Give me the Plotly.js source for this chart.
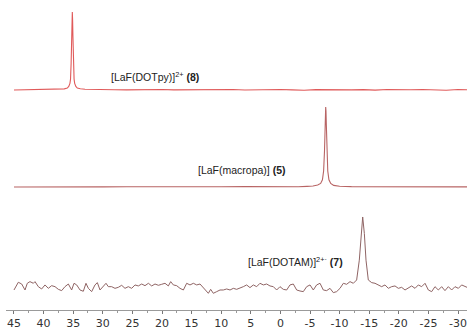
<!DOCTYPE html>
<html><head><meta charset="utf-8">
<script src="https://cdn.plot.ly/plotly-3.0.1.min.js"></script>
<style>html,body{margin:0;padding:0;background:#fff}#chart{width:467px;height:329px}</style>
</head><body><div id="chart"></div>
<script>
// x axis ticks (ppm)
var tickValues = [45,40,35,30,25,20,15,10,5,0,-5,-10,-15,-20,-25,-30];
var tickLabels = ['45','40','35','30','25','20','15','10','5','0','-5','-10','-15','-20','-25','-30'];
var minorTickValues = [42.5,37.5,32.5,27.5,22.5,17.5,12.5,7.5,2.5,-2.5,-7.5,-12.5,-17.5,-22.5,-27.5];

// Trace labels
var labelDOTpy = '[LaF(DOTpy)]<sup>2+</sup> <b>(8)</b>';
var labelMacropa = '[LaF(macropa)] <b>(5)</b>';
var labelDOTAM = '[LaF(DOTAM)]<sup>2+·</sup> <b>(7)</b>';

// [LaF(DOTpy)]2+ (8) spectrum
var dotpyShift = [45,43,41,39,37.5,36.5,36,35.75,35.55,35.45,35.35,35.25,35.2,35.15,35.1,35.05,34.95,34.85,34.75,34.55,34.3,33.8,33,31.5,30,28,26,24,22,20,18,16,14,12,10,8,6,4,2,0,-2,-4,-6,-8,-10,-12,-14,-16,-18,-20,-22,-24,-26,-28,-30,-31.6];
var dotpyInt   = [0,0.002,0.003,0.005,0.008,0.015,0.025,0.045,0.085,0.14,0.34,0.7,0.9,1.0,0.9,0.7,0.34,0.14,0.085,0.045,0.025,0.015,0.009,0.005,0.003,0.004,0.002,0.005,0.001,0.006,0.002,0.004,0.001,0.005,0.002,0.006,0.0,0.005,0.002,0.006,0.001,-0.004,0.005,0.002,0.006,0.001,0.005,-0.002,0.006,0.002,0.004,0.006,0.001,-0.003,0.006,0.002];

// [LaF(macropa)] (5) spectrum
var macropaShift = [45,42,38,34,30,26,22,18,14,10,6,3,1,-1,-3,-4.5,-5.5,-6.3,-6.8,-7.1,-7.3,-7.45,-7.55,-7.6,-7.65,-7.7,-7.75,-7.85,-8.0,-8.2,-8.5,-9,-10,-12,-15,-18,-21,-24,-27,-30,-31.6];
var macropaInt   = [0,0.002,0.001,0.003,0.002,0.003,0.001,0.004,0.002,0.003,0.005,0.002,0.004,0.006,0.004,0.008,0.012,0.025,0.045,0.09,0.2,0.45,0.8,0.95,1.0,0.95,0.8,0.45,0.2,0.09,0.045,0.02,0.01,0.005,0.003,0.002,0.003,0.001,0.002,0.002,0.001];

// [LaF(DOTAM)]2+ (7) spectrum
var dotamShift = [45.0,44.27,43.70,43.14,42.75,42.30,41.73,41.45,40.89,40.33,39.76,39.20,38.64,38.07,37.51,36.95,36.39,35.82,35.26,34.86,34.41,33.85,33.29,32.84,32.44,31.88,31.32,30.92,30.47,29.91,29.46,29.07,28.50,27.94,27.38,26.81,26.25,25.69,25.12,24.56,24.0,23.43,22.87,22.30,21.74,21.18,20.61,20.05,19.49,18.93,18.53,18.08,17.52,16.96,16.39,15.83,15.27,14.70,14.14,13.58,13.13,12.57,12.17,11.78,11.33,10.76,10.20,9.64,9.07,8.51,7.95,7.39,6.82,6.26,5.70,5.14,4.57,4.01,3.45,2.88,2.32,1.76,1.19,0.63,0.07,-0.49,-1.06,-1.62,-2.18,-2.75,-3.31,-3.87,-4.44,-5.0,-5.56,-6.12,-6.69,-7.25,-7.81,-8.38,-8.94,-9.50,-10.07,-10.63,-11.19,-11.76,-12.32,-12.88,-13.33,-13.61,-13.90,-14.18,-14.46,-14.85,-15.42,-15.98,-16.54,-17.10,-17.67,-18.23,-18.79,-19.36,-19.92,-20.48,-21.05,-21.61,-22.17,-22.74,-23.30,-23.86,-24.43,-24.99,-25.55,-26.11,-26.68,-27.24,-27.80,-28.37,-28.93,-29.49,-30.06,-30.62,-31.18,-31.6];
var dotamInt   = [-0.014,0.093,0.069,-0.014,0.079,0.102,0.079,0.102,0.032,0.0,0.056,0.009,0.046,0.032,-0.005,-0.023,0.032,0.069,-0.014,0.079,0.056,-0.014,-0.032,0.079,0.009,-0.037,0.056,0.088,-0.014,0.032,0.079,0.032,0.032,0.009,0.023,0.051,0.009,0.032,0.009,0.056,0.042,0.069,0.046,0.079,0.042,0.069,0.051,0.065,0.079,0.042,0.102,0.056,0.046,0.009,-0.014,0.079,0.056,0.079,0.056,0.069,0.032,-0.023,-0.060,-0.005,-0.060,-0.037,-0.014,-0.014,0.0,-0.014,0.009,-0.005,0.009,0.032,0.056,0.019,0.056,0.032,0.079,0.056,0.069,0.042,0.032,-0.014,0.032,-0.005,-0.014,0.056,0.069,-0.014,-0.028,-0.037,0.032,0.056,-0.014,0.056,0.079,-0.014,-0.023,0.009,-0.051,-0.037,0.009,0.079,0.065,0.102,0.079,0.125,0.40,0.77,1.0,0.77,0.40,0.125,0.088,0.079,0.056,0.032,0.056,0.009,0.032,0.042,0.009,0.023,-0.014,0.009,0.042,0.009,0.056,0.032,0.079,-0.014,-0.037,0.032,-0.014,0.032,-0.023,0.032,-0.014,0.032,0.009,0.056,0.032,0.02];

var traces = [
  {x: dotamShift, y: dotamInt, type:'scatter', mode:'lines', yaxis:'y', line:{color:'#8f6464', width:1}, hoverinfo:'skip'},
  {x: macropaShift, y: macropaInt, type:'scatter', mode:'lines', yaxis:'y2', line:{color:'#b86464', width:1.1}, hoverinfo:'skip'},
  {x: dotpyShift, y: dotpyInt, type:'scatter', mode:'lines', yaxis:'y3', line:{color:'#e05a5a', width:1.1}, hoverinfo:'skip'}
];

// plot area 0..310 px tall; ranges map baselines/peaks onto the reference rows
var hiddenY = {visible:false, showgrid:false, zeroline:false, fixedrange:true};
var layout = {
  width:467, height:329,
  margin:{l:6, r:0, t:0, b:19},
  paper_bgcolor:'#fff', plot_bgcolor:'#fff',
  showlegend:false,
  font:{family:'Liberation Sans, Arial, sans-serif', color:'#222'},
  xaxis:{
    range:[46.35,-31.52], showgrid:false, zeroline:false,
    showline:true, linecolor:'#9a9a9a', linewidth:1,
    ticks:'outside', ticklen:3, tickcolor:'#777', tickwidth:1,
    tickmode:'array', tickvals:tickValues, ticktext:tickLabels,
    tickfont:{family:'DejaVu Sans, Verdana, sans-serif', size:11, color:'#333'},
    minor:{tickmode:'array', tickvals:minorTickValues, ticks:'outside', ticklen:2, tickcolor:'#999'}
  },
  yaxis: Object.assign({range:[-0.292,4.014]}, hiddenY),
  yaxis2: Object.assign({range:[-1.5375,2.3375], overlaying:'y'}, hiddenY),
  yaxis3: Object.assign({range:[-2.821,1.154], overlaying:'y'}, hiddenY),
  annotations:[
    {text:labelDOTpy, xref:'paper', yref:'paper', x:0.2234, y:0.752, xanchor:'left', yanchor:'middle', showarrow:false, font:{size:10.5, color:'#222'}},
    {text:labelMacropa, xref:'paper', yref:'paper', x:0.412, y:0.452, xanchor:'left', yanchor:'middle', showarrow:false, font:{size:10.5, color:'#222'}},
    {text:labelDOTAM, xref:'paper', yref:'paper', x:0.5206, y:0.158, xanchor:'left', yanchor:'middle', showarrow:false, font:{size:10.5, color:'#222'}}
  ]
};
Plotly.newPlot('chart', traces, layout, {staticPlot:true, displayModeBar:false});
</script></body></html>
